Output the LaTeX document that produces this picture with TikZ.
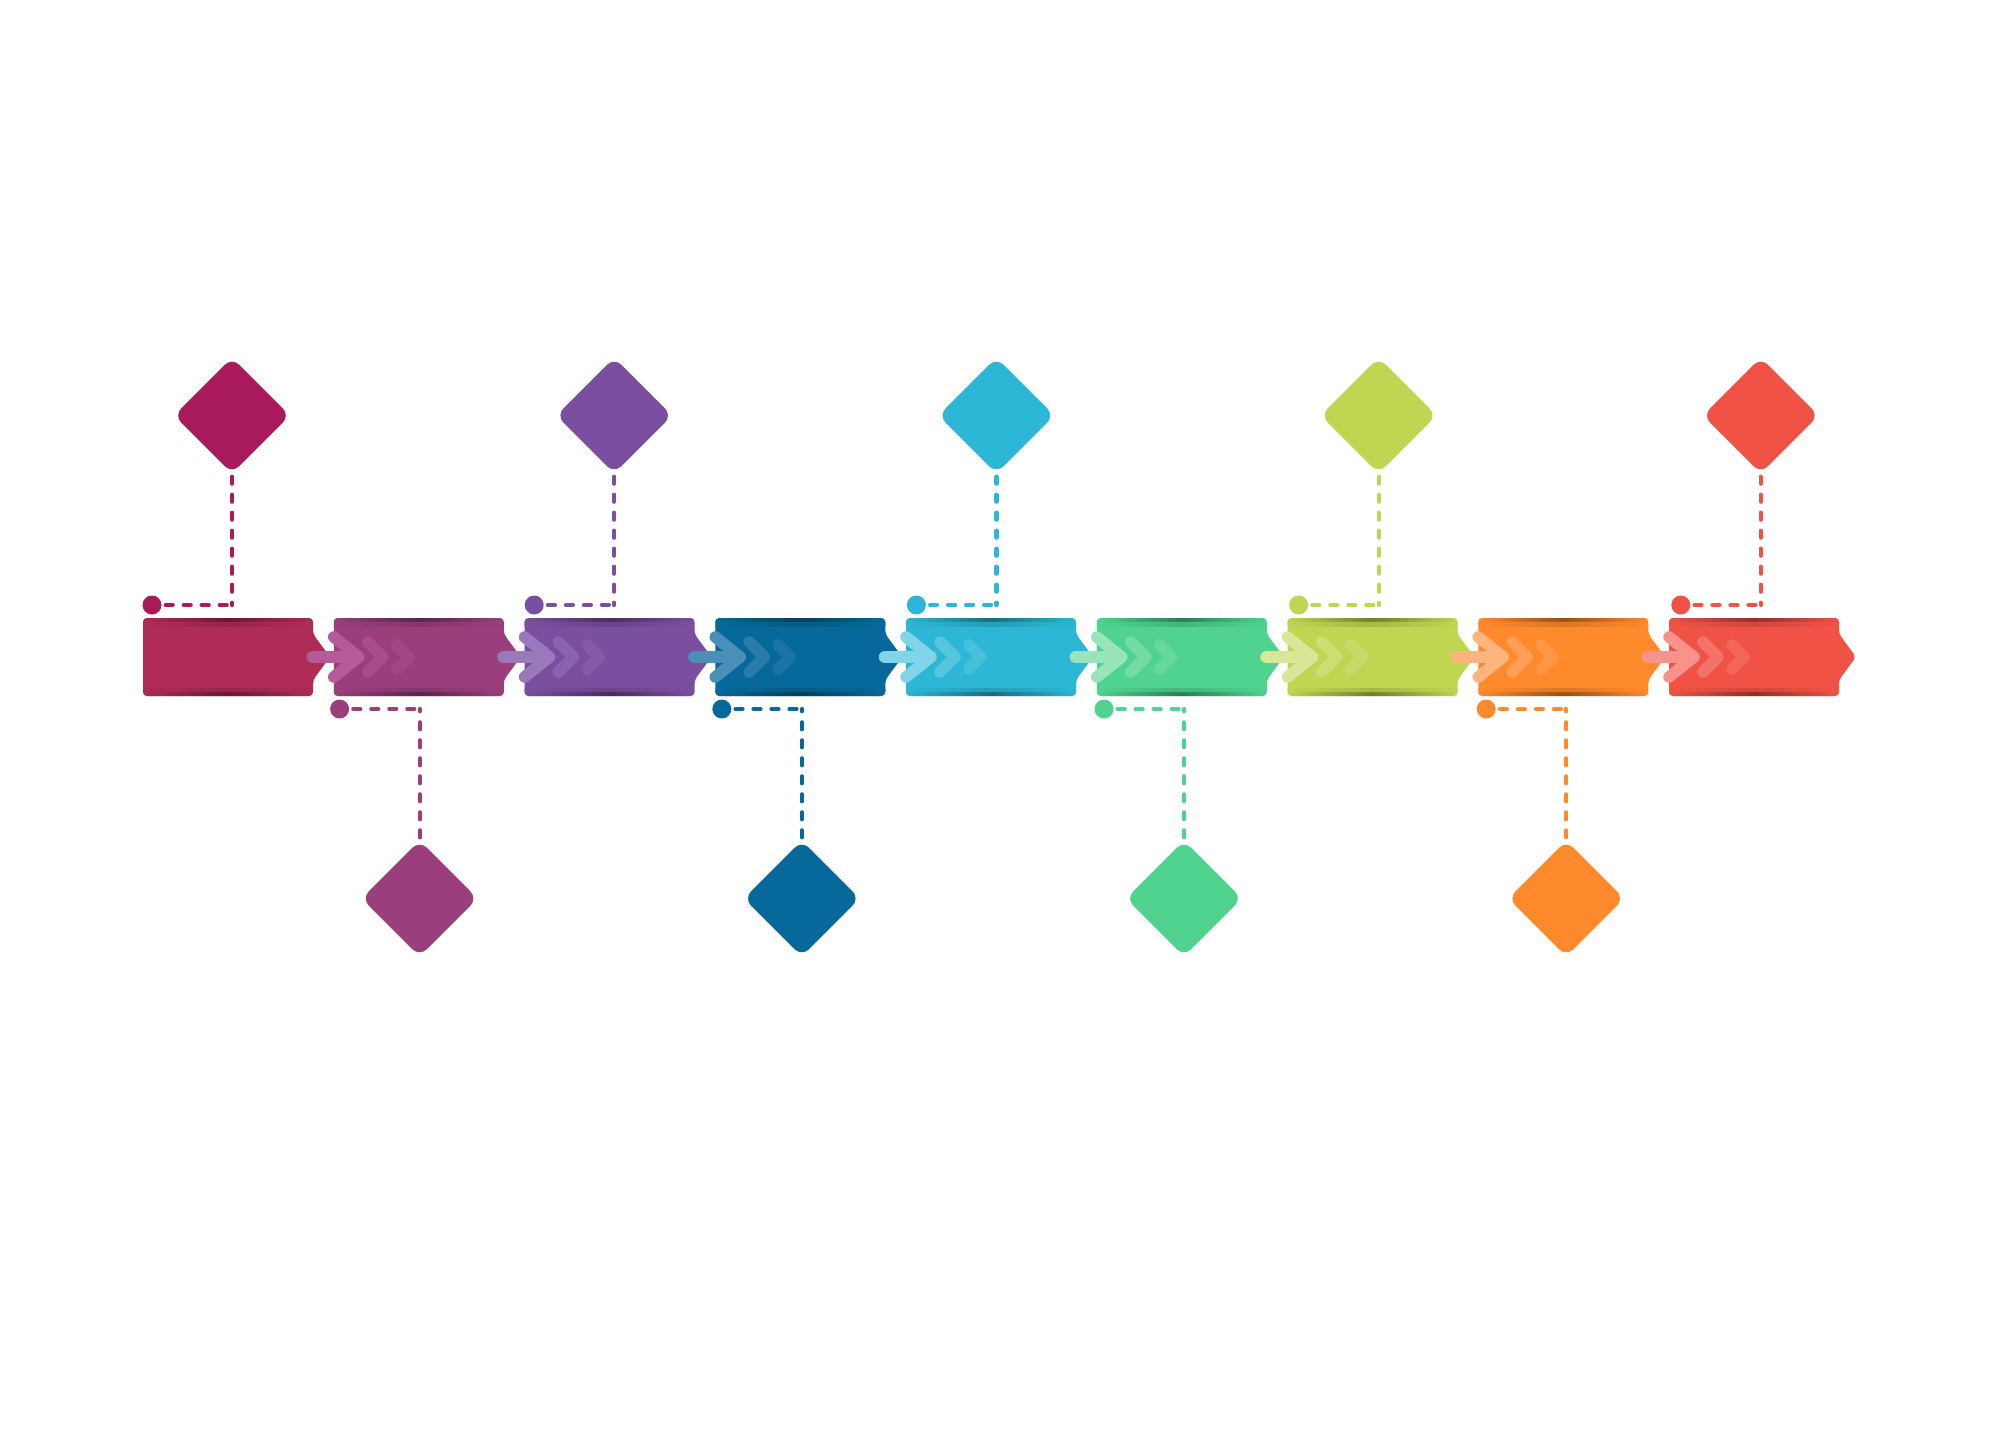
\documentclass[tikz,border=0pt]{standalone}
\usetikzlibrary{shapes.geometric}
\definecolor{c1}{HTML}{AE2C55}\definecolor{d1}{HTML}{A91A5A}\definecolor{t1}{HTML}{C85A7E}
\definecolor{c2}{HTML}{9A3F7B}\definecolor{t2}{HTML}{B55B9A}\definecolor{d2}{HTML}{9A3F7B}
\definecolor{c3}{HTML}{7A4FA0}\definecolor{t3}{HTML}{9879B9}\definecolor{d3}{HTML}{7A4FA0}
\definecolor{c4}{HTML}{07699B}\definecolor{t4}{HTML}{4A8FB8}\definecolor{d4}{HTML}{07699B}
\definecolor{c5}{HTML}{2BB7D5}\definecolor{t5}{HTML}{82D4E8}\definecolor{d5}{HTML}{2BB7D5}
\definecolor{c6}{HTML}{4FD38F}\definecolor{t6}{HTML}{9AE4BB}\definecolor{d6}{HTML}{4FD38F}
\definecolor{c7}{HTML}{C0D551}\definecolor{t7}{HTML}{D9E597}\definecolor{d7}{HTML}{C0D551}
\definecolor{c8}{HTML}{FE8A2C}\definecolor{t8}{HTML}{FFB47E}\definecolor{d8}{HTML}{FE8A2C}
\definecolor{c9}{HTML}{F05345}\definecolor{t9}{HTML}{F7938B}\definecolor{d9}{HTML}{F05345}
\begin{document}
\begin{tikzpicture}[x=1pt,y=-1pt,
  dotnode/.style={circle,inner sep=0pt,minimum size=19pt},
  dianode/.style={diamond,inner sep=0pt,minimum width=116pt,minimum height=116pt,rounded corners=10pt},
  leader/.style={line width=4.2pt,dash pattern=on 7pt off 11pt,line cap=round},
  chev/.style={line width=11.5pt,line cap=round,line join=round},
  shaft/.style={line width=12.5pt,line cap=round},
]
\fill[white] (0,0) rectangle (2000,1429);
\useasboundingbox (0,0) rectangle (2000,1429);
% boxes
\foreach \i in {1,...,9}{
  \pgfmathsetmacro\L{143+190.75*(\i-1)}
  \pgfmathsetmacro\R{\L+170}
  \def\boxpath{(\L,618) -- (\R,618) -- (\R,634) -- (\R+17,657) -- (\R,680) -- (\R,696) -- (\L,696) -- cycle}
  \fill[c\i,rounded corners=4pt] \boxpath;
  \begin{scope}
    \clip[rounded corners=4pt] \boxpath;
    \shade[left color=c\i,right color=c\i,middle color=c\i!45!black,opacity=.75] (\L,618) rectangle (\R,621.5);
    \shade[left color=c\i,right color=c\i,middle color=c\i!70!black,opacity=.45] (\L,621.5) rectangle (\R,626);
    \shade[left color=c\i,right color=c\i,middle color=c\i!45!black,opacity=.75] (\L,692.5) rectangle (\R,696);
    \shade[left color=c\i,right color=c\i,middle color=c\i!70!black,opacity=.45] (\L,688) rectangle (\R,692.5);
  \end{scope}
}
% arrows
\foreach \i in {2,...,9}{
  \pgfmathsetmacro\L{143+190.75*(\i-1)}
  \draw[shaft,t\i] (\L-21,657) -- (\L+24,657);
  \draw[chev,t\i] (\L,637) -- (\L+25,657) -- (\L,677);
  \draw[chev,t\i,opacity=.5] (\L+34,642) -- (\L+49,657) -- (\L+34,672);
  \draw[chev,t\i,opacity=.3] (\L+63,645) -- (\L+75,657) -- (\L+63,669);
}
% markers, leaders and diamonds
\foreach \i/\s in {1/1,2/-1,3/1,4/-1,5/1,6/-1,7/1,8/-1,9/1}{
  \pgfmathsetmacro\cx{232+191.1*(\i-1)-1.75*(1-\s)}
  \pgfmathsetmacro\dy{657-52*\s}
  \pgfmathsetmacro\cy{657-241.5*\s}
  \node[dotnode,fill=d\i] (dot\i) at (\cx-80,\dy) {};
  \coordinate (bend\i) at (\cx,\dy);
  \node[dianode,fill=d\i] (dia\i) at (\cx,\cy) {};
  \draw[leader,d\i,shorten <=4pt] (dot\i) -- (bend\i);
  \draw[leader,d\i,shorten <=3pt] (dia\i) -- (bend\i);
}
\end{tikzpicture}
\end{document}
